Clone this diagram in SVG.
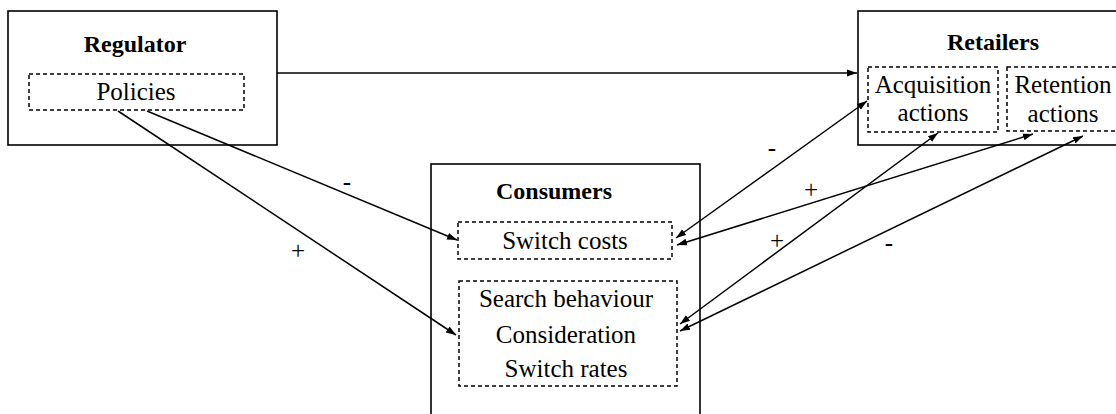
<svg xmlns="http://www.w3.org/2000/svg" width="1116" height="414" viewBox="0 0 1116 414">
<style>
.box{fill:none;stroke:#000;stroke-width:1.6}
.dash{fill:none;stroke:#000;stroke-width:1.5;stroke-dasharray:4 3}
.t{font-family:'Liberation Serif','Times New Roman','DejaVu Serif',serif;font-size:25px;fill:#000;text-anchor:middle}
.b{font-family:'Liberation Serif','Times New Roman','DejaVu Serif',serif;font-size:24px;font-weight:bold;fill:#000;text-anchor:middle}
.lbl{font-family:'Liberation Serif','Times New Roman','DejaVu Serif',serif;font-size:25px;fill:#000;text-anchor:middle}
.c{stroke:#000;stroke-width:1.5;fill:none}
</style>
<defs>
<marker id="ah" viewBox="0 0 10 10" refX="10" refY="5" markerWidth="10" markerHeight="10" markerUnits="userSpaceOnUse" orient="auto-start-reverse">
<path d="M0,1.5 L10,5 L0,8.5 Z" fill="#000"/>
</marker>
</defs>
<rect width="1116" height="414" fill="#fff"/>
<g id="regulator">
<rect class="box" x="8" y="11" width="269" height="134"/>
<text class="b" x="135" y="52" font-family="Liberation Serif, serif">Regulator</text>
<rect class="dash" x="29" y="74" width="215" height="36"/>
<text class="t" x="136" y="100" font-family="Liberation Serif, serif">Policies</text>
</g>
<g id="retailers">
<rect class="box" x="858" y="11" width="270" height="134"/>
<text class="b" x="993" y="50">Retailers</text>
<rect class="dash" x="868" y="67" width="130" height="65"/>
<text class="t" x="933" y="93">Acquisition</text>
<text class="t" x="933" y="121">actions</text>
<rect class="dash" x="1007" y="67" width="120" height="64"/>
<text class="t" x="1063" y="93">Retention</text>
<text class="t" x="1063" y="122">actions</text>
</g>
<g id="consumers">
<rect class="box" x="431" y="164" width="269" height="270"/>
<text class="b" x="554" y="199">Consumers</text>
<rect class="dash" x="458" y="222" width="214" height="37"/>
<text class="t" x="565" y="249">Switch costs</text>
<rect class="dash" x="459" y="281" width="218" height="105"/>
<text class="t" x="566" y="307">Search behaviour</text>
<text class="t" x="566" y="343">Consideration</text>
<text class="t" x="566" y="377">Switch rates</text>
</g>
<g id="connectors">
<line class="c" x1="277" y1="73" x2="857" y2="73" marker-end="url(#ah)"/>
<line class="c" x1="147" y1="111" x2="457" y2="240" marker-end="url(#ah)"/>
<line class="c" x1="118" y1="111" x2="456" y2="335" marker-end="url(#ah)"/>
<line class="c" x1="676" y1="238" x2="867" y2="101" marker-start="url(#ah)" marker-end="url(#ah)"/>
<line class="c" x1="677" y1="245" x2="1033" y2="134" marker-start="url(#ah)" marker-end="url(#ah)"/>
<line class="c" x1="680" y1="324" x2="938" y2="133" marker-start="url(#ah)" marker-end="url(#ah)"/>
<line class="c" x1="680" y1="331" x2="1083" y2="136" marker-start="url(#ah)" marker-end="url(#ah)"/>
<text class="lbl" x="347" y="190">-</text>
<text class="lbl" x="298" y="259">+</text>
<text class="lbl" x="772" y="156">-</text>
<text class="lbl" x="811" y="198">+</text>
<text class="lbl" x="777" y="249">+</text>
<text class="lbl" x="889" y="251">-</text>
</g>
</svg>
